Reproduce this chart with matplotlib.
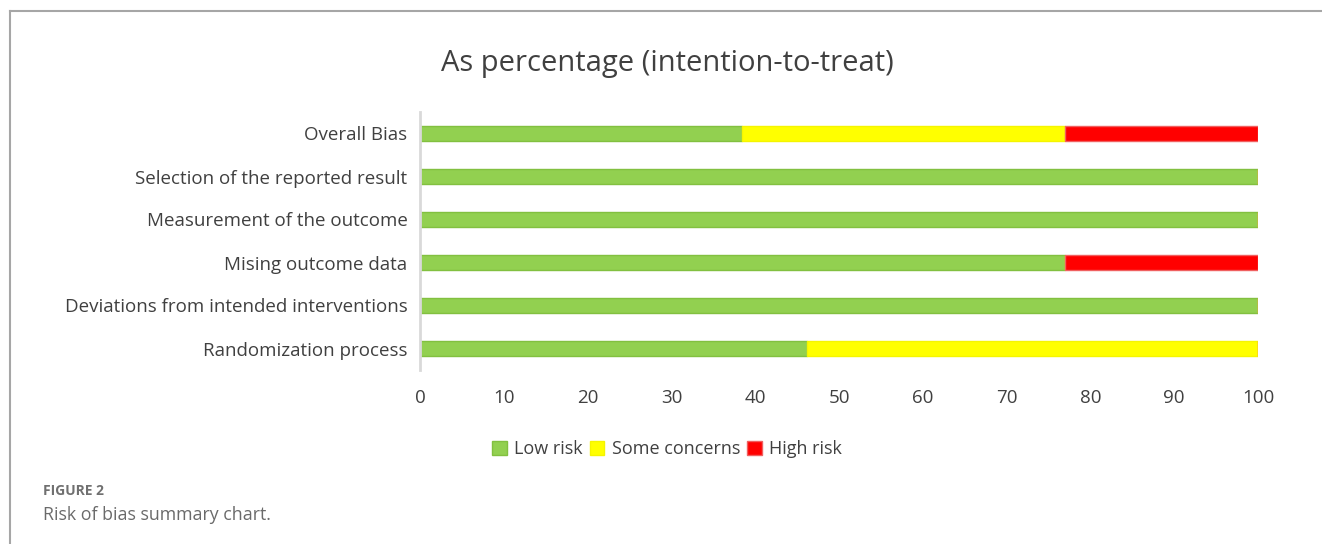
import matplotlib
matplotlib.use("Agg")
import matplotlib.pyplot as plt
from matplotlib.lines import Line2D
import numpy as np

categories = ["Randomization process", "Deviations from intended interventions",
              "Mising outcome data", "Measurement of the outcome",
              "Selection of the reported result", "Overall Bias"]
low_risk = [46.15, 100, 76.92, 100, 100, 38.46]
some_concerns = [53.85, 0, 0, 0, 0, 38.46]
high_risk = [0, 0, 23.08, 0, 0, 23.08]
series_names = ["Low risk", "Some concerns", "High risk"]
xticks = [0, 10, 20, 30, 40, 50, 60, 70, 80, 90, 100]

plt.rcParams['font.family'] = ['Open Sans', 'DejaVu Sans']
W, H = 1322, 544
fig = plt.figure(figsize=(W/100, H/100), dpi=100)
ax = fig.add_axes([420/W, 1-370/H, (1258-420)/W, (370-112)/H])

y = np.arange(len(categories))
h = 0.37
fills = ["#92d050", "#ffff00", "#ff0000"]
edges = ["#82c040", "#f5f500", "#f06060"]
left = np.zeros(len(categories))
for vals, name, fc, ec in zip([low_risk, some_concerns, high_risk], series_names, fills, edges):
    vals = np.array(vals, dtype=float)
    ax.barh(y, vals, left=left, height=h, color=fc, edgecolor=ec, linewidth=1.0, label=name)
    left += vals

ax.set_xlim(0, 100)
ax.set_ylim(-0.5, 5.5)
ax.set_yticks(y)
ax.set_yticklabels(categories, fontsize=13.5, color="#404040")
ax.set_xticks(xticks)
ax.set_xticklabels([str(t) for t in xticks], fontsize=13.5, color="#404040")
ax.tick_params(axis='both', length=0)
ax.tick_params(axis='y', pad=9)
ax.tick_params(axis='x', pad=14)
for s in ["top", "right", "bottom"]:
    ax.spines[s].set_visible(False)
ax.spines["left"].set_color("#d9d9d9")
ax.spines["left"].set_linewidth(2)

fig.text(667/W, 1-63/H, "As percentage (intention-to-treat)", ha="center", va="center",
         fontsize=21, color="#404040")

fig.legend(loc="center", bbox_to_anchor=(667/W, 1-449/H), ncol=3, frameon=False,
           fontsize=13, handlelength=0.8, handleheight=0.8, handletextpad=0.4,
           columnspacing=0.4, labelcolor="#404040")

# frame lines
fig.add_artist(Line2D([10/W, 10/W], [0, 1-11/H], color="#a6a6a6", linewidth=1.5, transform=fig.transFigure))
fig.add_artist(Line2D([10/W, 1], [1-11/H, 1-11/H], color="#a6a6a6", linewidth=1.5, transform=fig.transFigure))

fig.text(43/W, 1-491/H, "FIGURE 2", ha="left", va="center", fontsize=10, color="#707070", fontweight="bold")
fig.text(43/W, 1-515/H, "Risk of bias summary chart.", ha="left", va="center", fontsize=12.8, color="#6a6a6a")

fig.savefig("out.png", dpi=100)
